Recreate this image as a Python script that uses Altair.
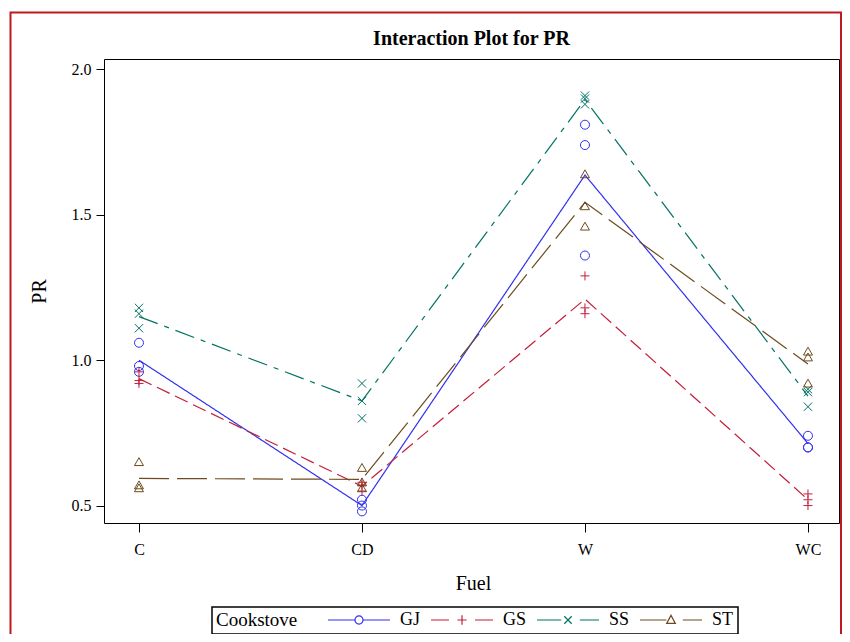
import altair as alt
import pandas as pd

# ---------------- data ----------------
fuels = ["C", "CD", "W", "WC"]
cookstoves = ["GJ", "GS", "SS", "ST"]

# replicate PR values per fuel, in the order of `fuels`
gj_values = [[1.06, 0.98, 0.96], [0.52, 0.50, 0.48], [1.81, 1.74, 1.36], [0.74, 0.70, 0.70]]
gs_values = [[0.96, 0.93, 0.92], [0.58, 0.57, 0.55], [1.29, 1.18, 1.16], [0.54, 0.52, 0.50]]
ss_values = [[1.18, 1.16, 1.11], [0.92, 0.86, 0.80], [1.91, 1.90, 1.88], [0.90, 0.89, 0.84]]
st_values = [[0.65, 0.57, 0.56], [0.63, 0.58, 0.56], [1.64, 1.53, 1.46], [1.03, 1.01, 0.92]]

y_ticks = [0.5, 1.0, 1.5, 2.0]

# ---------------- styles ----------------
colors = ["#3030EE", "#C41E3A", "#007364", "#6E4B1E"]
dashes = [[1, 0], [14, 6], [20, 7, 5, 7], [30, 8]]
marker_paths = [
    "circle",
    "M-1,0L1,0M0,-1L0,1",
    "M-0.92,-0.92L0.92,0.92M-0.92,0.92L0.92,-0.92",
    "M-1,0.8L1,0.8L0,-0.95Z",
]
legend_paths = [
    "M-1,0L-0.13,0M0.13,0L1,0M-0.13,0A0.13,0.13,0,1,1,0.13,0A0.13,0.13,0,1,1,-0.13,0",
    "M-1,0L-0.42,0M0.42,0L1,0M-0.15,0L0.15,0M0,-0.15L0,0.15",
    "M-1,0L-0.22,0M0.38,0L1,0M-0.12,-0.12L0.12,0.12M-0.12,0.12L0.12,-0.12",
    "M-1,0L-0.15,0M0.38,0L1,0M-0.14,0.11L0.14,0.11L0,-0.15Z",
]
FONT = "Liberation Serif"

rows = []
for stove, vals in zip(cookstoves, [gj_values, gs_values, ss_values, st_values]):
    for fuel, reps in zip(fuels, vals):
        for v in reps:
            rows.append({"Cookstove": stove, "Fuel": fuel, "PR": v})
df = pd.DataFrame(rows)

PLOT_W, PLOT_H = 735, 464

x_enc = alt.X(
    "Fuel:N",
    sort=fuels,
    scale=alt.Scale(type="point", domain=fuels, padding=0.148, align=0.53),
    axis=alt.Axis(
        title="Fuel", labelAngle=0, tickSize=9, labelPadding=9, domain=False, grid=False,
        labelFontSize=16, labelFont=FONT, labelColor="black", tickColor="black",
        titleFontSize=20, titleFont=FONT, titleFontWeight="normal", titleColor="black",
        titleX=369, titleY=66, titleBaseline="alphabetic", titleAlign="center",
    ),
)
y_scale = alt.Scale(domain=[0.44, 2.036], nice=False, zero=False)
y_axis = alt.Axis(
    title="PR", values=y_ticks, format=".1f", tickSize=8, labelPadding=5, domain=False, grid=False,
    labelFontSize=16, labelFont=FONT, labelColor="black", tickColor="black",
    titleFontSize=20, titleFont=FONT, titleFontWeight="normal", titleColor="black",
    titleAngle=270, titleX=-65, titleY=232, titleBaseline="middle", titleAlign="center",
)
color_scale = alt.Scale(domain=cookstoves, range=colors)

base = alt.Chart(df)

lines = base.mark_line(strokeWidth=1.2).encode(
    x=x_enc,
    y=alt.Y("mean(PR):Q", scale=y_scale, axis=y_axis),
    color=alt.Color("Cookstove:N", scale=color_scale, legend=None),
    strokeDash=alt.StrokeDash("Cookstove:N", scale=alt.Scale(domain=cookstoves, range=dashes), legend=None),
)

points = base.mark_point(filled=False, opacity=1, strokeWidth=1, size=81).encode(
    x=x_enc,
    y=alt.Y("PR:Q", scale=y_scale, axis=y_axis),
    color=alt.Color("Cookstove:N", scale=color_scale, legend=None),
    shape=alt.Shape("Cookstove:N", scale=alt.Scale(domain=cookstoves, range=marker_paths), legend=None),
)

leg = alt.Legend(
    title="Cookstove", orient="none", legendX=108, legendY=548, direction="horizontal",
    titleOrient="left", titleFontSize=19, titleFontWeight="normal", titleFont=FONT, titleColor="black",
    titlePadding=29, titleBaseline="middle", titleAnchor="middle",
    labelFontSize=18, labelFont=FONT, labelColor="black", labelOffset=9,
    columnPadding=9, padding=4, strokeColor="black", symbolSize=3844, symbolStrokeWidth=1.2,
    clipHeight=18, symbolFillColor="transparent",
)

legend_layer = base.transform_filter("false").mark_point(filled=False, opacity=1, strokeWidth=1.2).encode(
    x=x_enc,
    y=alt.Y("PR:Q", scale=y_scale, axis=y_axis),
    color=alt.Color("Cookstove:N", scale=color_scale, legend=leg),
    shape=alt.Shape("Cookstove:N", scale=alt.Scale(domain=cookstoves, range=legend_paths), legend=leg),
)

border = alt.Chart(pd.DataFrame({"k": [0]})).mark_rect(
    fillOpacity=0, stroke="#C0181F", strokeWidth=2
).encode(
    x=alt.value(-93.5), x2=alt.value(737), y=alt.value(-46.5), y2=alt.value(700)
)

chart = (
    alt.layer(border, lines, points, legend_layer)
    .resolve_scale(color="independent", shape="independent")
    .properties(
        width=PLOT_W,
        height=PLOT_H,
        title=alt.TitleParams(
            text="Interaction Plot for PR", font=FONT, fontSize=20, fontWeight="bold",
            color="black", anchor="middle", frame="group", baseline="alphabetic", offset=0, dy=53.5,
        ),
        autosize=alt.AutoSizeParams(type="none"),
        padding={"left": 96, "top": 51, "right": 834 - 96 - PLOT_W, "bottom": 626 - 51 - PLOT_H},
    )
    .configure(font=FONT)
    .configure_view(stroke="black", strokeWidth=1)
    .configure_legend(strokeWidth=1.5)
)

chart.save("out.html", embed_options={"renderer": "svg", "actions": False})
